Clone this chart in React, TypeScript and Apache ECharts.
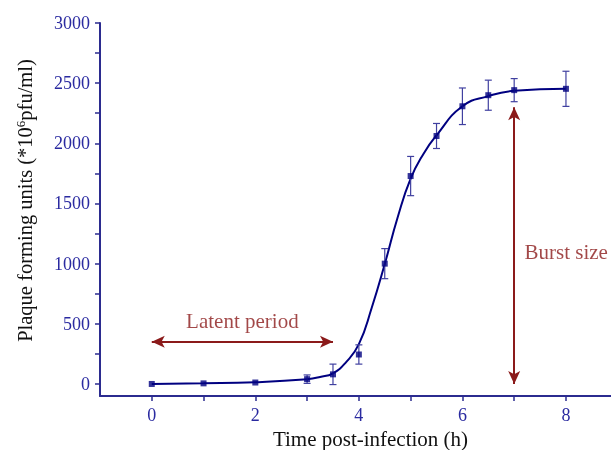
import React, { useEffect, useRef } from "react";
import * as echarts from "echarts";

// Measured points (time h, pfu, error)
const timePoints = [0, 1, 2, 3, 3.5, 4, 4.5, 5, 5.5, 6, 6.5, 7, 8];
const pfuValues = [0, 5, 12, 40, 80, 245, 1000, 1728, 2061, 2308, 2400, 2442, 2453];
const pfuErrors = [0, 0, 0, 35, 85, 80, 125, 163, 104, 152, 125, 96, 146];

// Fitted curve
const curveX = [0, 1, 2, 3, 3.25, 3.5, 3.75, 4, 4.25, 4.5, 4.75, 5, 5.25, 5.5, 6, 6.5, 7, 8];
const curveY = [0, 5, 15, 40, 58, 89, 180, 331, 636, 997, 1386, 1706, 1914, 2067, 2308, 2392, 2436, 2453];

const xTicks = [0, 1, 2, 3, 4, 5, 6, 7, 8];
const xLabels = [0, 2, 4, 6, 8];
const yTicks = [0, 250, 500, 750, 1000, 1250, 1500, 1750, 2000, 2250, 2500, 2750, 3000];
const yLabels = [0, 500, 1000, 1500, 2000, 2500, 3000];

const latentArrow = [[0, 350], [3.5, 350]];
const burstArrow = [[7, 2300], [7, 0]];
const latentLabel = [1.75, 525];
const burstLabel = [7.2, 1095];

const AXIS = "#2B2B8F";
const NAVY = "#000080";
const ERR = "#4040A0";
const RED = "#8B1A1A";
const FONT = "Liberation Serif";

export default function App() {
  const ref = useRef<HTMLDivElement>(null);
  useEffect(() => {
    if (!ref.current) return;
    const chart = echarts.init(ref.current, undefined, { renderer: "svg" });
    const errData = timePoints.map((t, i) => [t, pfuValues[i], pfuErrors[i]]);
    chart.setOption({
      animation: false,
      grid: { left: 100, top: 23, right: 0, bottom: 54, containLabel: false, outerBoundsMode: "none" },
      xAxis: {
        type: "value",
        min: -1,
        max: 8.87,
        name: "Time post-infection (h)",
        nameLocation: "middle",
        nameGap: 32,
        nameTextStyle: { fontFamily: FONT, fontSize: 21, color: "#111", padding: [0, 0, 0, 30] },
        axisLine: { show: true, onZero: false, lineStyle: { color: AXIS, width: 2 } },
        axisTick: { show: true, inside: false, length: 5, customValues: xTicks, lineStyle: { color: AXIS, width: 1.5 } },
        axisLabel: { customValues: xLabels, margin: 10, fontFamily: FONT, fontSize: 18, color: "#2A2AA0", formatter: (v: number) => String(v) },
        splitLine: { show: false },
      },
      yAxis: {
        type: "value",
        min: -100,
        max: 3000,
        name: "{a|Plaque forming units (*10}{s|6}{a|pfu/ml)}",
        nameLocation: "middle",
        nameGap: 64,
        nameTextStyle: {
          fontFamily: FONT,
          fontSize: 20.5,
          color: "#111",
          padding: [0, 0, 0, 18],
          rich: {
            a: { fontFamily: FONT, fontSize: 20.5, color: "#111" },
            s: { fontFamily: FONT, fontSize: 13, color: "#111", verticalAlign: "top", padding: [0, 0, 9, 0] },
          },
        },
        axisLine: { show: true, onZero: false, lineStyle: { color: AXIS, width: 2 } },
        axisTick: { show: true, inside: false, length: 5, customValues: yTicks, lineStyle: { color: AXIS, width: 1.5 } },
        axisLabel: { customValues: yLabels, margin: 10, fontFamily: FONT, fontSize: 18, color: "#2A2AA0", formatter: (v: number) => String(v) },
        splitLine: { show: false },
      },
      series: [
        {
          type: "line",
          data: curveX.map((x, i) => [x, curveY[i]]),
          smooth: 0.5,
          showSymbol: false,
          lineStyle: { color: NAVY, width: 2 },
          z: 3,
          markLine: {
            silent: true,
            symbol: ["arrow", "arrow"],
            symbolSize: [9, 13],
            lineStyle: { color: RED, width: 2, type: "solid" },
            label: { show: false },
            data: [
              [{ coord: latentArrow[0] }, { coord: latentArrow[1] }],
              [{ coord: burstArrow[0] }, { coord: burstArrow[1] }],
            ],
          },
        },
        {
          type: "custom",
          data: errData,
          z: 4,
          renderItem: (params: any, api: any) => {
            const x = api.value(0);
            const y = api.value(1);
            const e = api.value(2);
            if (!e) return { type: "group", children: [] };
            const top = api.coord([x, y + e]);
            const bot = api.coord([x, y - e]);
            const w = 3.5;
            const style = { stroke: ERR, lineWidth: 1.2 };
            return {
              type: "group",
              children: [
                { type: "line", shape: { x1: top[0], y1: top[1], x2: bot[0], y2: bot[1] }, style },
                { type: "line", shape: { x1: top[0] - w, y1: top[1], x2: top[0] + w, y2: top[1] }, style },
                { type: "line", shape: { x1: bot[0] - w, y1: bot[1], x2: bot[0] + w, y2: bot[1] }, style },
              ],
            };
          },
        },
        {
          type: "scatter",
          data: timePoints.map((t, i) => [t, pfuValues[i]]),
          symbol: "rect",
          symbolSize: 6,
          itemStyle: { color: NAVY },
          z: 5,
        },
        {
          type: "scatter",
          data: [
            { value: latentLabel, label: { formatter: "Latent period", align: "center" } },
            { value: burstLabel, label: { formatter: "Burst size", align: "left" } },
          ],
          symbolSize: 0,
          silent: true,
          label: {
            show: true,
            position: "inside",
            fontFamily: FONT,
            fontSize: 21,
            color: RED,
          },
          z: 6,
        },
      ],
    });
    return () => chart.dispose();
  }, []);
  return <div ref={ref} style={{ position: "fixed", left: 0, top: 0, width: 611, height: 450 }} />;
}
